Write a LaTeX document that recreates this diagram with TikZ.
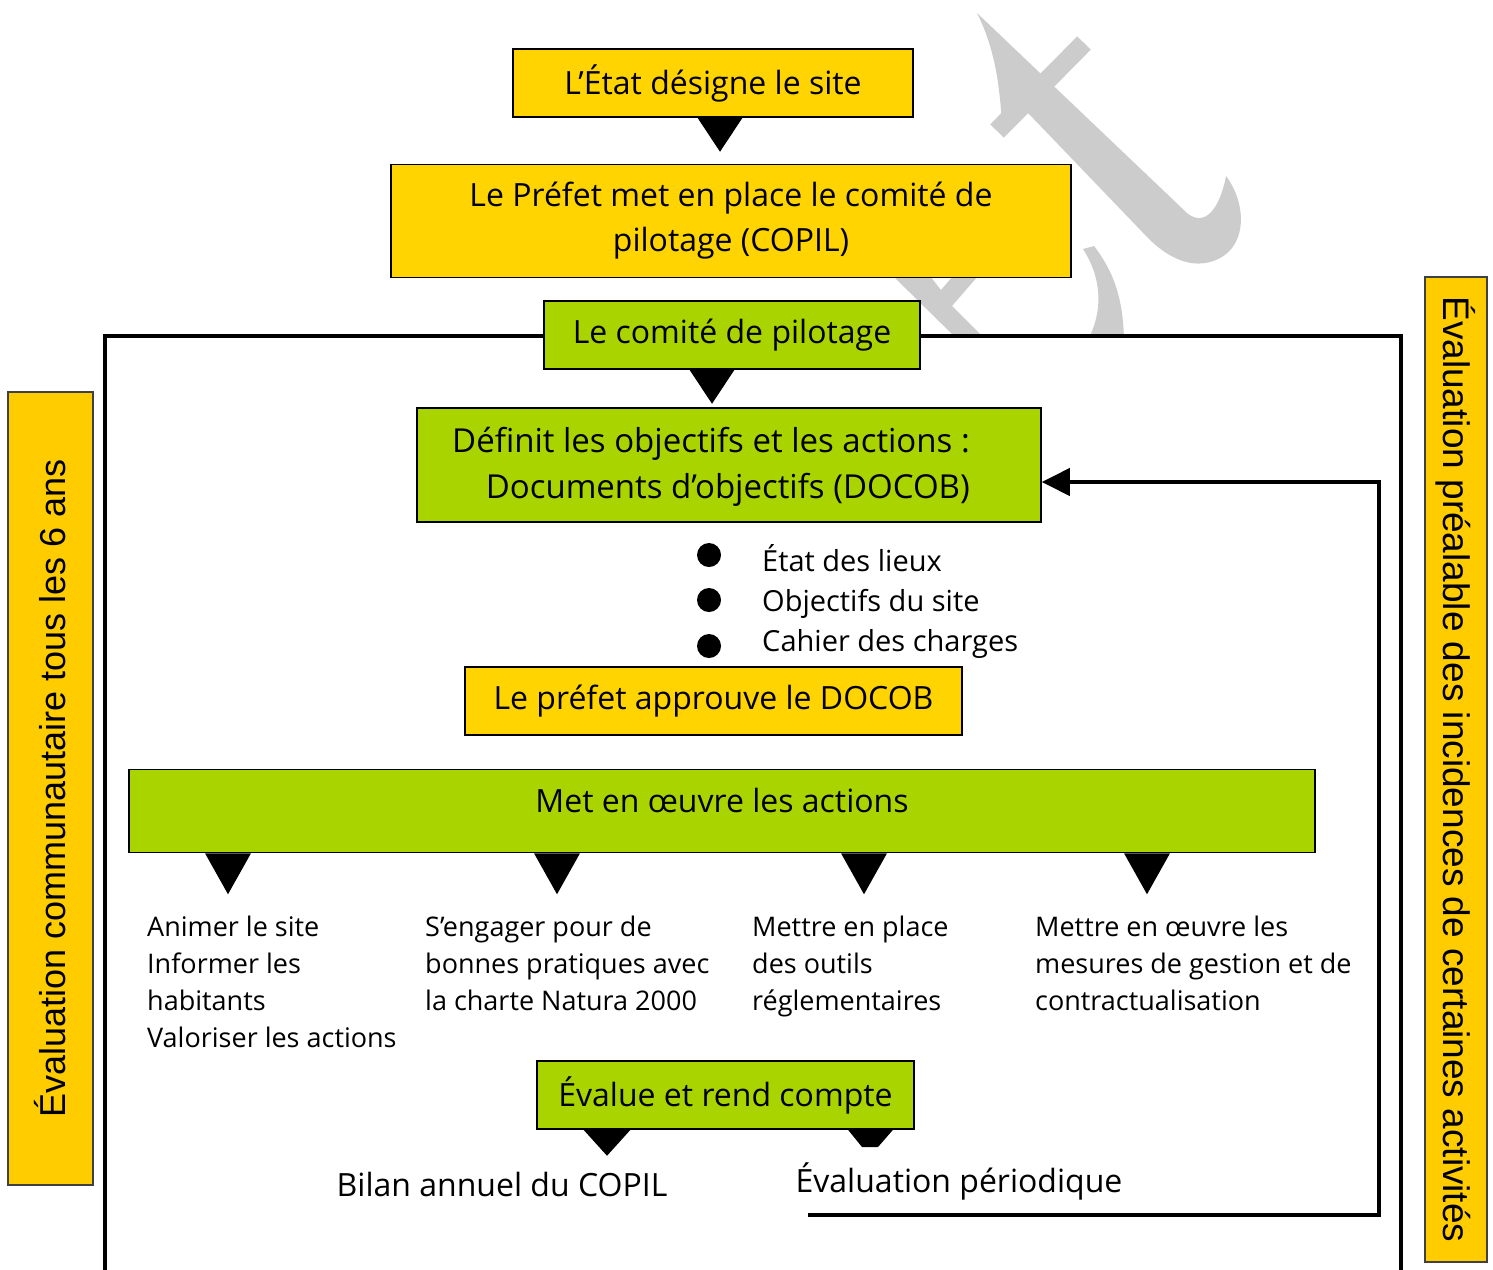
\documentclass[tikz,border=0pt]{standalone}
\usepackage{fontspec}
\setmainfont{Open Sans}
\newfontfamily\barfont{Liberation Sans}
\usetikzlibrary{arrows.meta}
\definecolor{NatYellow}{HTML}{FFD400}
\definecolor{NatGreen}{HTML}{AAD400}
\definecolor{NatBar}{HTML}{FFCC00}
\definecolor{NatMark}{HTML}{CCCCCC}
\newcommand{\boxfont}{\fontsize{32pt}{45pt}\selectfont}
\newcommand{\listfont}{\fontsize{29pt}{40pt}\selectfont}
\newcommand{\colfont}{\fontsize{27pt}{37pt}\selectfont}
% black triangle under a box: top centre, width, height
\newcommand{\pointer}[3]{\fill[black] #1 ++(-#2/2,0) -- ++(#2,0) -- ++(-#2/2,#3) -- cycle;}

\begin{document}
\begin{tikzpicture}[x=1pt, y=-1pt,
    yellowbox/.style={draw, line width=1.5pt, fill=NatYellow, font=\boxfont, align=center, inner sep=0pt},
    greenbox/.style={yellowbox, fill=NatGreen},
    sidebar/.style={draw=black!75, line width=2pt, fill=NatBar, inner sep=0pt},
    itemtext/.style={font=\colfont, align=left, anchor=north west, inner sep=0pt},
    listtext/.style={font=\listfont, anchor=base west, inner sep=0pt},
    wmark/.style={fill=NatMark}]
    \clip (0,0) rectangle (1493,1269);

    % Watermark behind the top boxes
    \begin{scope}
        \clip (0,0) rectangle (1493,336);
        \fill[wmark] (977,13) -- (1187,213) .. controls (1205,228) and (1220,208) .. (1226,176)
            .. controls (1248,205) and (1248,252) .. (1210,262) .. controls (1188,268) and (1166,256) .. (1148,238)
            -- (1028,113) -- (1003,137) .. controls (1000,95) and (998,55) .. (977,13) -- cycle;
        \draw[NatMark, line width=19pt] (1084,43) -- (997,131);
        \fill[wmark] (1083,249) .. controls (1100,275) and (1106,310) .. (1085,345) -- (1124,345)
            .. controls (1124,300) and (1114,272) .. (1094,246) -- cycle;
        \fill[wmark] (893,276) -- (930,276) -- (941,290) -- (953,276) -- (978,276) -- (952,306)
            -- (986,340) -- (958,340) -- cycle;
    \end{scope}

    % Frame
    \draw[line width=3.5pt] (105,1300) -- (105,336) -- (1401,336) -- (1401,1300);

    % Top of the chain
    \node[yellowbox, minimum width=400pt, minimum height=68pt] (etat) at (713,83) {L’État désigne le site};
    \node[yellowbox, minimum width=680pt, minimum height=113pt] (prefet) at (731,221) {Le Préfet met en place le comité de\\pilotage (COPIL)};
    \node[greenbox, minimum width=376pt, minimum height=68pt] (copil) at (732,335) {Le comité de pilotage};
    \node[greenbox, minimum width=624pt, minimum height=114pt] (docob) at (729,465) {};
    \node[font=\fontsize{33pt}{46pt}\selectfont, align=right, inner sep=0pt] (docobtext) at (711,467) {Définit les objectifs et les actions :\\Documents d’objectifs (DOCOB)};

    \pointer{(720,0 |- etat.south)}{45}{34}
    \pointer{(712,0 |- copil.south)}{45}{34}

    % Content of the DOCOB
    \node[circle, fill, inner sep=0pt, minimum size=24pt] (dot1) at (709,555) {};
    \node[circle, fill, inner sep=0pt, minimum size=24pt] (dot2) at (709,600) {};
    \node[circle, fill, inner sep=0pt, minimum size=24pt] (dot3) at (709,646) {};
    \node[listtext] (lieux) at (762,571) {État des lieux};
    \node[listtext] (objectifs) at (762,611) {Objectifs du site};
    \node[listtext] (cahier) at (762,651) {Cahier des charges};

    \node[yellowbox, minimum width=497pt, minimum height=68pt] (approuve) at (713.5,701) {Le préfet approuve le DOCOB};
    \node[greenbox, minimum width=1186pt, minimum height=83pt, text depth=22pt] (actions) at (722,811) {Met en œuvre les actions};

    \foreach \px in {228,557,864,1147}{
        \pointer{(\px,0 |- actions.south)}{46}{41}
    }

    % Actions
    \node[itemtext] (animer) at (147,916) {Animer le site\\Informer les\\habitants\\Valoriser les actions};
    \node[itemtext] (engager) at (425,916) {S’engager pour de\\bonnes pratiques avec\\la charte Natura 2000};
    \node[itemtext] (outils) at (752,916) {Mettre en place\\des outils\\réglementaires};
    \node[itemtext] (mesures) at (1035,916) {Mettre en œuvre les\\mesures de gestion et de\\contractualisation};

    % Evaluation
    \node[greenbox, minimum width=377pt, minimum height=68pt] (eval) at (725.5,1095) {Évalue et rend compte};
    \pointer{(607,0 |- eval.south)}{47}{26}
    \fill[black] (848,0 |- eval.south) -- (893,0 |- eval.south) -- (878,1147) -- (862,1147) -- cycle;
    \node[font=\boxfont, anchor=base, inner sep=0pt] (bilan) at (502,1196) {Bilan annuel du COPIL};
    \node[font=\boxfont, anchor=base, inner sep=0pt] (periodique) at (959,1192) {Évaluation périodique};

    % Feedback to the DOCOB
    \coordinate (fbstart) at (808,1215);
    \coordinate (fbcorner) at (1379,482);
    \draw[line width=4pt, -{Triangle[length=28pt, width=27pt]}] (fbstart) -| (fbcorner) -- (docob.east |- fbcorner);

    % Side bars
    \node[sidebar, rotate=90, minimum width=793pt, minimum height=85pt, font=\barfont\fontsize{36pt}{40pt}\selectfont] (sixans) at (50.5,788.5) {Évaluation communautaire tous les 6 ans};
    \node[sidebar, rotate=-90, minimum width=985pt, minimum height=62pt, font=\barfont\fontsize{37pt}{40pt}\selectfont] (incidences) at (1456,769.5) {Évaluation préalable des incidences de certaines activités};
\end{tikzpicture}
\end{document}
